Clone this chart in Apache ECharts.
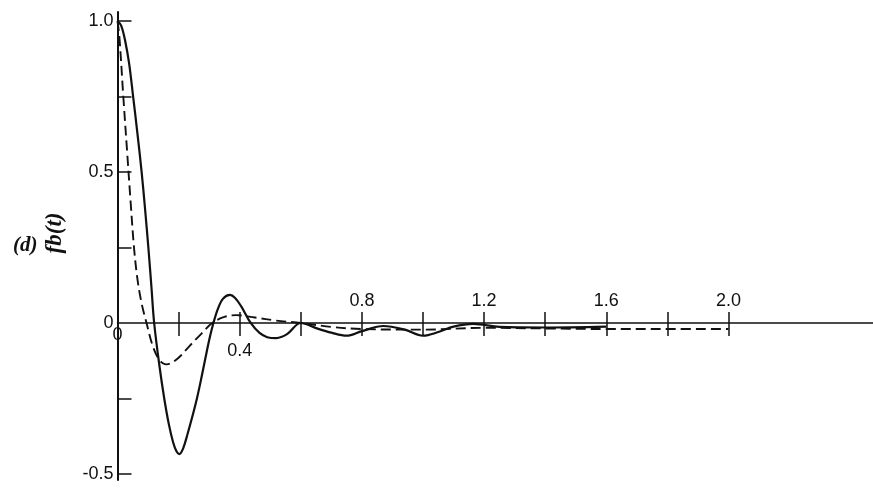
<!DOCTYPE html>
<html>
<head>
<meta charset="utf-8">
<script src="https://cdn.jsdelivr.net/npm/echarts@6/dist/echarts.min.js"></script>
<style>html,body{margin:0;padding:0;background:#fff;}#c{width:873px;height:493px;}</style>
</head>
<body>
<div id="c"></div>
<script>
// Data
const solidCurve = [
  [0,1.0],[0.012,0.985],[0.025,0.935],[0.038,0.86],[0.05,0.76],[0.065,0.63],[0.079,0.5],[0.09,0.38],[0.101,0.25],[0.111,0.12],[0.12,0.0],
  [0.137,-0.14],[0.153,-0.25],[0.168,-0.335],[0.182,-0.395],[0.193,-0.425],[0.202,-0.434],
  [0.215,-0.415],[0.23,-0.365],[0.245,-0.31],[0.26,-0.25],[0.275,-0.18],[0.29,-0.105],[0.302,-0.048],[0.314,0.0],
  [0.328,0.045],[0.345,0.08],[0.368,0.093],[0.385,0.083],[0.405,0.055],[0.436,0.0],[0.465,-0.033],[0.49,-0.047],[0.52,-0.05],[0.555,-0.037],[0.6,0.0],
  [0.65,-0.017],[0.7,-0.032],[0.75,-0.042],[0.8,-0.027],[0.87,-0.01],[0.94,-0.022],[1.0,-0.042],[1.05,-0.03],[1.1,-0.012],[1.165,-0.003],
  [1.25,-0.013],[1.4,-0.015],[1.6,-0.012]
];
const dashedCurve = [
  [0,1.0],[0.006,0.95],[0.019,0.75],[0.032,0.56],[0.043,0.4],[0.054,0.25],[0.066,0.14],[0.08,0.06],[0.095,0.0],
  [0.115,-0.075],[0.135,-0.12],[0.15,-0.134],[0.161,-0.137],[0.175,-0.133],[0.2,-0.115],[0.237,-0.075],[0.275,-0.035],[0.31,0.0],
  [0.35,0.02],[0.39,0.026],[0.45,0.018],[0.52,0.008],[0.6,0.0],[0.7,-0.013],[0.8,-0.02],[1.0,-0.022],[1.2,-0.016],
  [1.4,-0.018],[1.6,-0.02],[1.8,-0.02],[2.0,-0.02]
];
const xTickValues = [0.2,0.4,0.6,0.8,1.0,1.2,1.4,1.6,1.8,2.0];
const xLabelsBelow = [0,0.4];
const xLabelsAbove = [0.8,1.2,1.6,2.0];
const yTickValues = [-0.5,-0.25,0.25,0.5,0.75,1.0];
const yLabelValues = [-0.5,0,0.5,1.0];
const yMin = -0.52, yMax = 1.03, xMax = 2.473;

const chartH = 493, gridTop = 12, gridBottom = 13;
const plotH = chartH - gridTop - gridBottom;
const zeroY = gridTop + plotH * yMax / (yMax - yMin);   // pixel row of y = 0 (same linear scale)

const font = '"Liberation Sans", Arial, sans-serif';
const chart = echarts.init(document.getElementById('c'), null, {renderer:'canvas'});
const fmt = v => (Math.abs(v) < 1e-9 ? '0' : v.toFixed(1));
const base = {left: 117.5, right: 0, containLabel: false, outerBoundsMode: 'none'};

chart.setOption({
  animation: false,
  backgroundColor: '#fff',
  title: {
    text: '(d)', left: 8, top: 230,
    textStyle: {fontFamily: '"Liberation Serif", serif', fontStyle: 'italic', fontWeight: 'bold', fontSize: 21, color: '#111'}
  },
  graphic: [{
    type: 'text', x: 55, y: 233, rotation: Math.PI/2,
    style: {text: 'fb(t)', fontFamily: '"Liberation Serif", serif', fontStyle: 'italic', fontWeight: 'bold', fontSize: 23, fill: '#111', align: 'center', verticalAlign: 'middle'}
  }],
  grid: [
    Object.assign({top: gridTop, bottom: gridBottom}, base),
    Object.assign({top: gridTop, bottom: chartH - zeroY}, base),
    Object.assign({top: zeroY, bottom: gridBottom}, base)
  ],
  xAxis: [{
    gridIndex: 0, type: 'value', min: 0, max: xMax, show: false
  },{
    gridIndex: 1, type: 'value', min: 0, max: xMax, position: 'bottom',
    axisLine: {show: true, onZero: false, lineStyle: {color: '#111', width: 1.5}},
    splitLine: {show: false},
    axisTick: {show: true, inside: false, length: 13, customValues: xTickValues, lineStyle: {color: '#111', width: 1.5}},
    axisLabel: {
      show: true, margin: 3, customValues: xLabelsBelow, color: '#111', fontFamily: font, fontSize: 18, hideOverlap: false,
      formatter: v => (Math.abs(v) < 1e-9 ? '{z|0}' : '{n|' + fmt(v) + '}'),
      rich: {z: {fontFamily: font, fontSize: 18, color: '#111'}, n: {fontFamily: font, fontSize: 18, color: '#111', padding: [16,0,0,0]}}
    }
  },{
    gridIndex: 2, type: 'value', min: 0, max: xMax, position: 'top',
    axisLine: {show: false, onZero: false},
    splitLine: {show: false},
    axisTick: {show: true, inside: false, length: 11, customValues: xTickValues, lineStyle: {color: '#111', width: 1.5}},
    axisLabel: {show: true, margin: 13, customValues: xLabelsAbove, color: '#111', fontFamily: font, fontSize: 18, formatter: fmt}
  }],
  yAxis: [{
    gridIndex: 0, type: 'value', min: yMin, max: yMax,
    axisLine: {show: true, onZero: false, lineStyle: {color: '#111', width: 2}},
    splitLine: {show: false},
    axisTick: {show: true, inside: true, length: 14, customValues: yTickValues, lineStyle: {color: '#111', width: 1.5}},
    axisLabel: {show: true, margin: 4, customValues: yLabelValues, color: '#111', fontFamily: font, fontSize: 18, formatter: fmt}
  },{
    gridIndex: 1, type: 'value', min: 0, max: yMax, show: false
  },{
    gridIndex: 2, type: 'value', min: yMin, max: 0, show: false
  }],
  series: [{
    type: 'line', xAxisIndex: 0, yAxisIndex: 0, data: solidCurve, showSymbol: false, smooth: 0.35,
    lineStyle: {color: '#111', width: 2.2}, z: 3
  },{
    type: 'line', xAxisIndex: 0, yAxisIndex: 0, data: dashedCurve, showSymbol: false, smooth: 0.35,
    lineStyle: {color: '#111', width: 1.9, type: [10,5]}, z: 3
  }]
});
</script>
</body>
</html>
